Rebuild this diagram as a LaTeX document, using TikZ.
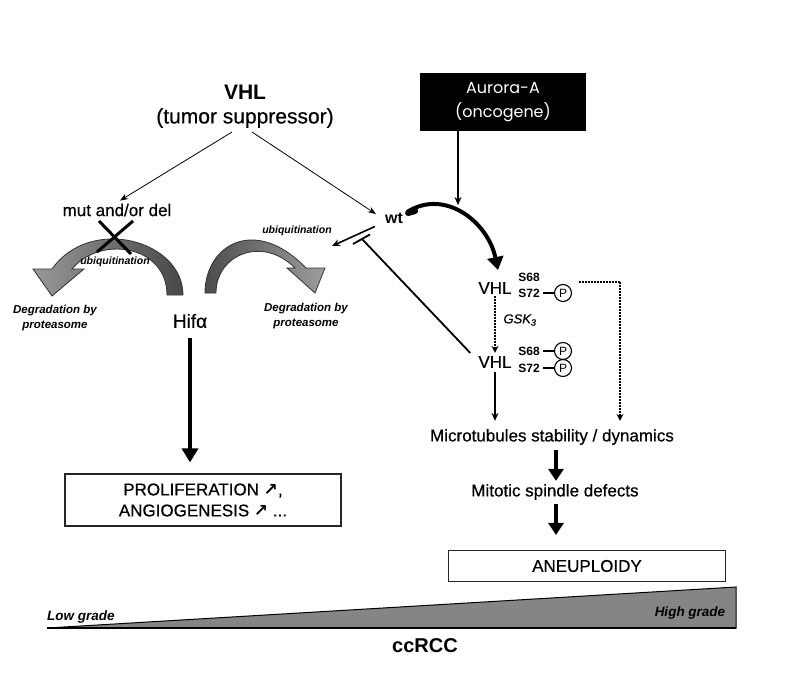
\documentclass[tikz,border=0pt]{standalone}
\usepackage{fontspec}
\setmainfont{Liberation Sans}
\newfontfamily\medfont{Liberation Sans}[FakeBold=0.5]
\newfontfamily\popfont{Poppins}
\newfontfamily\dvfont{DejaVu Sans}
\usetikzlibrary{arrows.meta,calc}
\begin{document}
\begin{tikzpicture}[x=1pt,y=-1pt,
  lbl/.style={inner sep=0pt, align=center},
  fs/.style={font=\medfont\fontsize{#1}{#1}\selectfont},
  bfs/.style={font=\bfseries\fontsize{#1}{#1}\selectfont},
  itl/.style={font=\bfseries\itshape\fontsize{#1}{#1}\selectfont},
  pcirc/.style={circle, draw, line width=1.1pt, inner sep=0pt, minimum size=17pt, font=\fontsize{12}{12}\selectfont},
  boxed/.style={draw=black!85, line width=1.2pt, inner sep=0pt, align=center},
  thinarr/.style={line width=0.8pt, -{Stealth[length=8pt,width=6pt]}},
  medarr/.style={line width=1.6pt, -{Stealth[length=8pt,width=7pt]}},
  thickarr/.style={line width=4pt, -{Triangle[length=12pt,width=15pt]}},
  dotarr/.style={line width=2pt, dash pattern=on 1.6pt off 1.4pt, -{Stealth[length=7pt,width=7pt]}},
  tbar/.style={line width=1.8pt},
  band/.style={draw=black!80, line width=0.8pt}
]
\useasboundingbox (0,0) rectangle (785,699);
\fill[white] (0,0) rectangle (785,699);

% curved gray arrows (drawn first)
\shade[band, left color=black!40, right color=black!72]
  (183,295) .. controls (183,240) and (90,215) .. (52,269) -- (33,269) -- (52,296) -- (84,269) -- (72,269)
  .. controls (100,235) and (167,245) .. (167,295) -- cycle;
\shade[band, left color=black!70, right color=black!38]
  (205,293) .. controls (205,245) and (255,215) .. (306,268) -- (325,268) -- (315,293) -- (287,268) -- (295,268)
  .. controls (262,235) and (216,255) .. (216,293) -- cycle;
% X mark
\draw[line width=3pt] (99,221) -- (131,254);
\draw[line width=3pt] (133,221) -- (97,252);

% nodes
\node[lbl, bfs=21] (vhl) at (245,92) {VHL};
\node[lbl, fs=21] (ts) at (245,118) {(tumor suppressor)};
\node[fill=black, minimum width=166pt, minimum height=58pt, inner sep=0pt, text=white,
      font=\popfont\fontsize{16}{24}\selectfont, align=center] (aur) at (503,102) {Aurora-A\\(oncogene)};
\node[lbl, fs=17] (mut) at (117,210) {mut and/or del};
\node[lbl, bfs=16] (wt) at (394,218) {wt};
\node[lbl, fs=19] (hif) at (190,321) {Hifα};
\node[lbl, itl=10.5] (ubl) at (115,262) {ubiquitination};
\node[lbl, itl=10.5] (ubr) at (297,231) {ubiquitination};
\node[lbl, font=\bfseries\itshape\fontsize{11.5}{15}\selectfont] (dgl) at (55,318) {Degradation by\\proteasome};
\node[lbl, font=\bfseries\itshape\fontsize{11.5}{15}\selectfont] (dgr) at (306,316) {Degradation by\\proteasome};

\node[lbl, fs=17] (vhl1) at (495,288) {VHL};
\node[lbl, bfs=12] (s68a) at (529,277) {S68};
\node[lbl, bfs=12] (s72a) at (529,293) {S72};
\node[pcirc] (p1) at (563,293) {P};
\node[lbl, font=\itshape\medfont\fontsize{13}{13}\selectfont] (gsk) at (520,320) {GSK\textsubscript{3}};
\node[lbl, fs=17] (vhl2) at (495,362) {VHL};
\node[lbl, bfs=12] (s68b) at (529,351) {S68};
\node[lbl, bfs=12] (s72b) at (529,368) {S72};
\node[pcirc] (p2) at (563,351) {P};
\node[pcirc] (p3) at (563,368) {P};

\node[lbl, fs=17] (mt) at (552,437) {Microtubules stability / dynamics};
\node[lbl, fs=17] (msd) at (555,492) {Mitotic spindle defects};
\node[boxed, minimum width=277pt, minimum height=31pt, fs=17] (aneu) at (587,566) {ANEUPLOIDY};
\node[boxed, minimum width=276pt, minimum height=52pt, font=\medfont\fontsize{17}{21}\selectfont] (prol) at (203,500)
  {PROLIFERATION {\dvfont\bfseries ↗},\\ANGIOGENESIS {\dvfont\bfseries ↗} ...};

% grade triangle
\filldraw[fill=black!48, draw=black, line width=1pt] (47,628) -- (736,587) -- (736,628) -- cycle;
\draw[line width=2pt] (47,628) -- (736,628);
\node[lbl, itl=13.5] (low) at (81,617) {Low grade};
\node[lbl, itl=13.5] (high) at (690,613) {High grade};
\node[lbl, bfs=20] (cc) at (425,646) {ccRCC};

% coordinates for free ends
\coordinate (aurend) at (458,205);
\coordinate (ubend) at (332,246);
\coordinate (tend) at (362,239);
\coordinate (curvend) at (498,270);
\coordinate (dstart) at (579,282);
\coordinate (dcorner) at (620,282);

% connectors
\draw[thinarr] ([xshift=-13pt,yshift=-4pt]ts.south) -- ([xshift=3pt,yshift=3pt]mut.north);
\draw[thinarr] ([xshift=7pt,yshift=-4pt]ts.south) -- ([xshift=-9pt,yshift=4pt]wt.west);
\draw[medarr] ([xshift=-45pt]aur.south) -- (aurend);
\draw[line width=4pt, -{Triangle[length=13pt,width=16pt]}] ([xshift=4pt,yshift=6pt]wt.east) .. controls (445,188) and (488,222) .. (curvend);
\draw[line width=6pt, line cap=round] ([xshift=5pt,yshift=5pt]wt.east) -- ++(7pt,2pt);
\draw[medarr] ([xshift=-10pt,yshift=-3pt]wt.south west) -- (ubend);
\draw[tbar] ([xshift=-8pt,yshift=3pt]vhl2.north west) -- (tend);
\draw[tbar] ($(tend)+(-9,5)$) -- ($(tend)+(8,-4.5)$);
\draw[line width=1.2pt] (s72a.east) ++(3pt,0) -- (p1.west);
\draw[line width=1.2pt] (s68b.east) ++(3pt,0) -- (p2.west);
\draw[line width=1.2pt] (s72b.east) ++(3pt,0) -- (p3.west);
\draw[dotarr] ([yshift=-2pt]vhl1.south) -- ([yshift=3pt]vhl2.north);
\draw[medarr] ([yshift=-4pt]vhl2.south) -- ([yshift=8pt]vhl2.south |- mt.north);
\draw[dotarr, -] (dstart) -- (dcorner);
\draw[dotarr] (dcorner) -- ([yshift=8pt]dcorner |- mt.north);
\draw[thickarr] ([xshift=4pt,yshift=-5pt]mt.south) -- ([xshift=1pt,yshift=3pt]msd.north);
\draw[thickarr] ([xshift=1pt,yshift=-4pt]msd.south) -- ([xshift=-31pt,yshift=15pt]aneu.north);
\draw[line width=4.5pt, -{Triangle[length=14pt,width=16pt]}] ([yshift=-10pt]hif.south) -- ([xshift=-13pt,yshift=11pt]prol.north);
\end{tikzpicture}
\end{document}
